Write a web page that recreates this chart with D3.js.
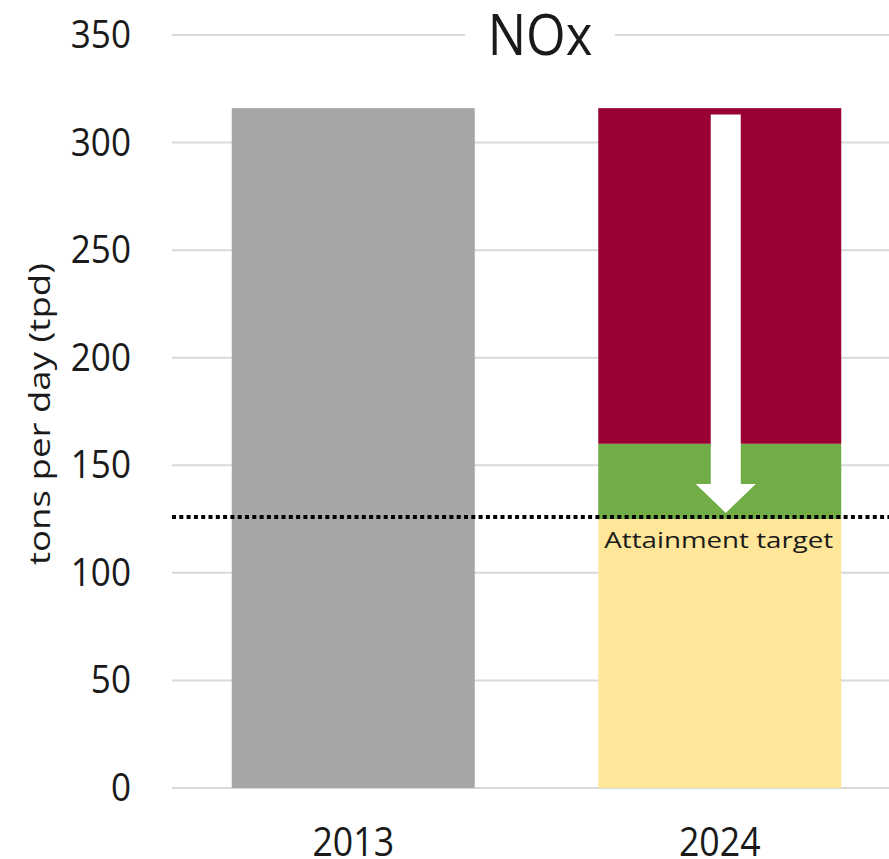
<!DOCTYPE html>
<html>
<head>
<meta charset="utf-8">
<script src="https://cdn.jsdelivr.net/npm/d3@7"></script>
<style>
	body { margin: 0; background: #fff; }
	text { font-family: 'Open Sans', 'Noto Sans', sans-serif; fill: #1a1a1a; }
</style>
</head>
<body>
<div id="chart"></div>
<script>
// chart data
let years = ['2013', '2024']
let total2013 = 316
let segNames = ['remaining', 'controls', 'reductions']
let seg2024 = [125, 35, 156]
let segColors = ['#ffe699', '#70ad47', '#990033']
let yTicks = [0, 50, 100, 150, 200, 250, 300, 350]
let target = 126
let arrowTop = 313

let W = 889
let H = 859

let svg = d3
	.select('#chart')
	.append('svg:svg')
	.attr('width', W)
	.attr('height', H)

let y = d3.scaleLinear().domain([0, 350]).range([788, 35])
let x = d3
	.scaleBand()
	.domain(years)
	.range([170, 903])
	.paddingInner(0.337)
	.paddingOuter(0.1685)

// gridlines
svg
	.selectAll('.grid')
	.data(yTicks)
	.enter()
	.append('svg:line')
	.attr('x1', 172)
	.attr('x2', W)
	.attr('y1', d => y(d))
	.attr('y2', d => y(d))
	.attr('stroke', '#d9d9d9')
	.attr('stroke-width', 2)

// tick labels (glyphs a bit narrow, like the original)
svg
	.selectAll('.ytick')
	.data(yTicks)
	.enter()
	.append('svg:text')
	.attr('transform', d => `translate(131,${y(d) + 13}) scale(0.9,1)`)
	.attr('text-anchor', 'end')
	.attr('font-size', 39)
	.text(d => d)

// 2013 bar
svg
	.append('svg:rect')
	.attr('x', x('2013'))
	.attr('y', y(total2013))
	.attr('width', x.bandwidth())
	.attr('height', y(0) - y(total2013))
	.attr('fill', '#a6a6a6')

// 2024 stacked bar
let acc = 0
seg2024.forEach((v, i) => {
	svg
		.append('svg:rect')
		.attr('id', `seg-${segNames[i]}`)
		.attr('x', x('2024'))
		.attr('y', y(acc + v))
		.attr('width', x.bandwidth())
		.attr('height', y(acc) - y(acc + v))
		.attr('fill', segColors[i])
	acc += v
})

// arrow down to the target
let ax = x('2024') + x.bandwidth() / 2 + 6
let tipY = y(target) - 4
let headY = tipY - 29
svg
	.append('svg:path')
	.attr(
		'd',
		`M${ax - 15},${y(arrowTop)} L${ax + 15},${y(arrowTop)} L${ax + 15},${headY} L${ax + 30},${headY} L${ax},${tipY} L${ax - 30},${headY} L${ax - 15},${headY} Z`
	)
	.attr('fill', '#ffffff')

// attainment target line
svg
	.append('svg:line')
	.attr('x1', 172)
	.attr('x2', W)
	.attr('y1', y(target))
	.attr('y2', y(target))
	.attr('stroke', '#000')
	.attr('stroke-width', 4)
	.attr('stroke-dasharray', '4,3.3')

svg
	.append('svg:text')
	.attr('x', x('2024') + 6)
	.attr('y', y(target) + 31)
	.attr('font-size', 22)
	.attr('textLength', 229)
	.attr('lengthAdjust', 'spacingAndGlyphs')
	.text('Attainment target')

// title with white backing
svg
	.append('svg:rect')
	.attr('x', 465)
	.attr('y', 8)
	.attr('width', 150)
	.attr('height', 55)
	.attr('fill', '#fff')
svg
	.append('svg:text')
	.attr('transform', 'translate(540,55) scale(0.91,1)')
	.attr('text-anchor', 'middle')
	.attr('font-size', 56)
	.text('NOx')

// x labels
svg
	.selectAll('.xlab')
	.data(years)
	.enter()
	.append('svg:text')
	.attr('transform', d => `translate(${x(d) + x.bandwidth() / 2},856) scale(0.87,1)`)
	.attr('text-anchor', 'middle')
	.attr('font-size', 41)
	.text(d => d)

// y axis title
svg
	.append('svg:text')
	.attr('transform', 'translate(50,414) rotate(-90)')
	.attr('text-anchor', 'middle')
	.attr('font-size', 29)
	.attr('textLength', 302)
	.attr('lengthAdjust', 'spacingAndGlyphs')
	.text('tons per day (tpd)')
</script>
</body>
</html>
